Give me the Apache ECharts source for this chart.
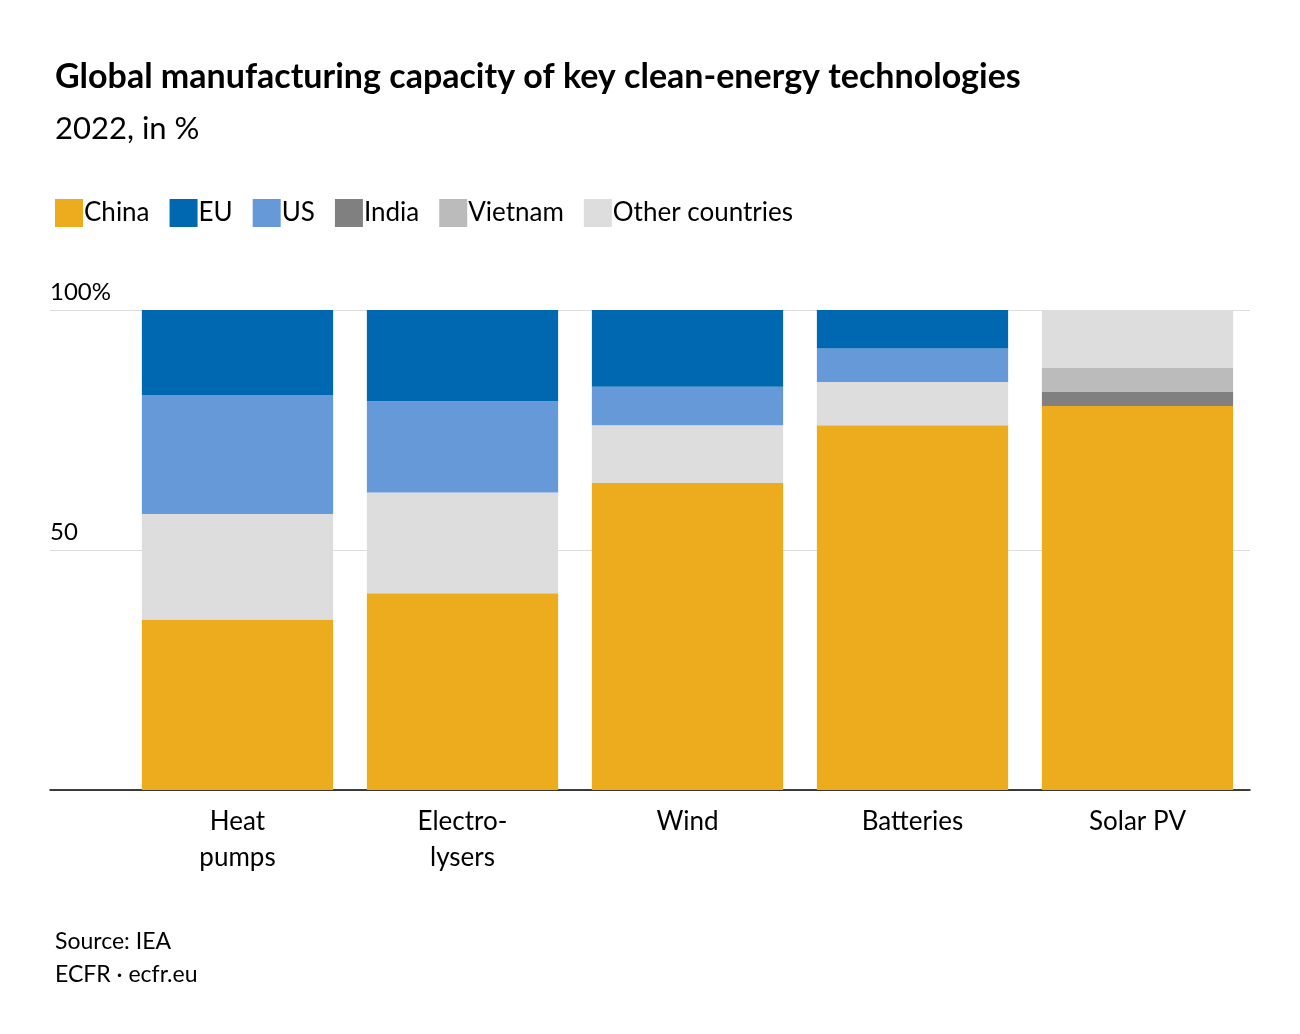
<!DOCTYPE html>
<html><head><meta charset="utf-8">
<script src="https://cdn.jsdelivr.net/npm/echarts@6/dist/echarts.min.js"></script>
<style>body{margin:0;background:#fff}#c{width:1300px;height:1034px}</style></head>
<body><div id="c"></div>
<script>
const categories = ["Heat\npumps","Electro-\nlysers","Wind","Batteries","Solar PV"];
const china   = [35.5, 41, 64, 76, 80];
const india   = [0, 0, 0, 0, 3];
const vietnam = [0, 0, 0, 0, 5];
const other   = [22, 21, 12, 9, 12];
const us      = [24.8, 19, 8, 7, 0];
const eu      = [17.7, 19, 16, 8, 0];
const yTicks  = [0, 50, 100];

const F = "Lato, 'Noto Sans', sans-serif";
const colors = {China:'#ECAC1D', EU:'#0068B0', US:'#6699D8', India:'#808080', Vietnam:'#BBBBBB', 'Other countries':'#DDDDDD'};
const mk = (name, data) => ({name, type:'bar', stack:'s', data, xAxisIndex:1, yAxisIndex:1,
  barCategoryGap:'15%', itemStyle:{color:colors[name]}});
const chart = echarts.init(document.getElementById('c'));
chart.setOption({
  animation:false,
  title:[{text:'Global manufacturing capacity of key clean-energy technologies', left:50, top:55,
    textStyle:{fontFamily:F, fontSize:34, fontWeight:'bold', color:'#000'}},
    {text:'2022, in %', left:50, top:108, textStyle:{fontFamily:F, fontSize:31, fontWeight:'normal', color:'#000'}},
    {text:'Source: IEA\nECFR · ecfr.eu', left:50, top:920, textStyle:{fontFamily:F, fontSize:23, fontWeight:'normal', color:'#000', lineHeight:33}}],
  legend:{left:50, top:194, itemWidth:28, itemHeight:28, itemGap:20, icon:'rect',
    data:['China','EU','US','India','Vietnam','Other countries'],
    textStyle:{fontFamily:F, fontSize:26, color:'#000', padding:[0,0,0,-4]}},
  grid:[{left:50, right:50, top:310, bottom:244}, {left:125, right:50, top:310, bottom:244}],
  xAxis:[{gridIndex:0, type:'value', min:0, max:1, show:true, axisLine:{show:true, lineStyle:{color:'#000', width:1.5}},
      axisTick:{show:false}, axisLabel:{show:false}, splitLine:{show:false}},
    {gridIndex:1, type:'category', data:categories, axisLine:{show:false}, axisTick:{show:false},
      axisLabel:{fontFamily:F, fontSize:26, color:'#000', lineHeight:36, margin:14}}],
  yAxis:[{gridIndex:0, type:'value', min:0, max:100, interval:50, axisLine:{show:false}, axisTick:{show:false},
      splitLine:{lineStyle:{color:'#ddd', width:1}},
      axisLabel:{inside:true, verticalAlign:'bottom', margin:0, fontFamily:F, fontSize:24, color:'#000', padding:[0,0,6,0],
        formatter:v => v===100 ? '100%' : (v===0 ? '' : String(v))}},
    {gridIndex:1, type:'value', min:0, max:100, show:false}],
  series:[mk('China',china), mk('India',india), mk('Vietnam',vietnam), mk('Other countries',other), mk('US',us), mk('EU',eu)]
});
</script></body></html>
